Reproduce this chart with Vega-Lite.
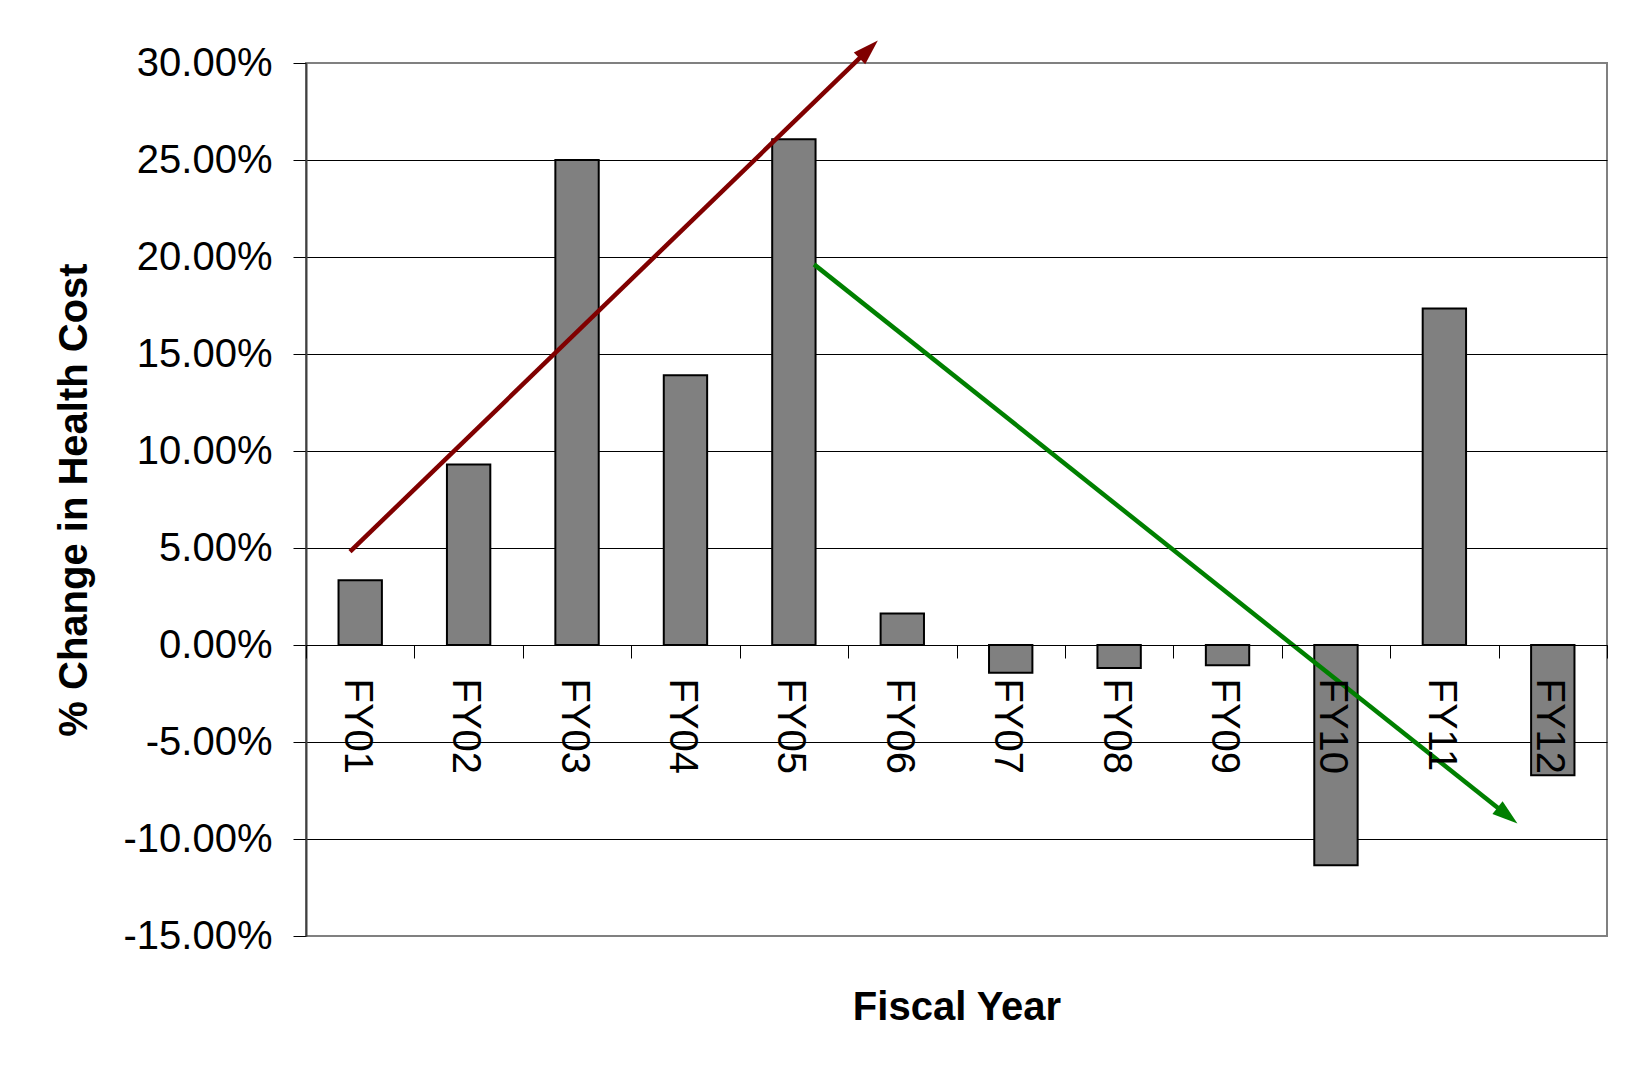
{
  "$schema": "https://vega.github.io/schema/vega-lite/v6.json",
  "width": 1301,
  "height": 873,
  "autosize": {"type": "none"},
  "padding": {"left": 306, "top": 63, "right": 20, "bottom": 133},
  "background": "white",
  "config": {
    "view": {"stroke": "#808080", "strokeWidth": 2},
    "font": "Liberation Sans"
  },
  "datasets": {
    "bars": [
      {"year": "FY01", "change": 0.0334},
      {"year": "FY02", "change": 0.093},
      {"year": "FY03", "change": 0.25},
      {"year": "FY04", "change": 0.139},
      {"year": "FY05", "change": 0.2607},
      {"year": "FY06", "change": 0.0162},
      {"year": "FY07", "change": -0.0143},
      {"year": "FY08", "change": -0.0118},
      {"year": "FY09", "change": -0.0104},
      {"year": "FY10", "change": -0.1135},
      {"year": "FY11", "change": 0.1735},
      {"year": "FY12", "change": -0.0671}
    ],
    "arrows": [
      {"trend": "up", "step": 0, "pos": 0.406, "val": 0.0481},
      {"trend": "up", "step": 1, "pos": 5.19, "val": 0.307},
      {"trend": "down", "step": 0, "pos": 4.686, "val": 0.1962},
      {"trend": "down", "step": 1, "pos": 11.082, "val": -0.0879}
    ]
  },
  "layer": [
    {
      "data": {"name": "bars"},
      "mark": {"type": "bar", "fill": "#808080", "stroke": "black", "strokeWidth": 2, "width": {"band": 0.4}},
      "encoding": {
        "x": {
          "field": "year",
          "type": "nominal",
          "sort": null,
          "scale": {"paddingInner": 0, "paddingOuter": 0},
          "axis": {
            "title": "Fiscal Year",
            "orient": "bottom",
            "offset": -291,
            "labelAngle": 90,
            "labelFontSize": 40,
            "labelColor": "black",
            "labelPadding": 20,
            "labelOffset": -4,
            "labelOverlap": false,
            "tickSize": 13,
            "tickColor": "black",
            "tickWidth": 1,
            "tickBand": "extent",
            "domainColor": "black",
            "domainWidth": 1,
            "grid": false,
            "titleFontSize": 40,
            "titleFontWeight": "bold",
            "titleColor": "black",
            "titleY": 374,
            "titleBaseline": "alphabetic",
            "zindex": 1
          }
        },
        "y": {
          "field": "change",
          "type": "quantitative",
          "scale": {"domain": [-0.15, 0.3], "nice": false, "zero": false},
          "axis": {
            "title": "% Change in Health Cost",
            "values": [-0.15, -0.1, -0.05, 0, 0.05, 0.1, 0.15, 0.2, 0.25, 0.3],
            "labelExpr": "replace(format(datum.value, '.2%'), '\u2212', '-')",
            "labelFontSize": 40,
            "labelColor": "black",
            "labelPadding": 21,
            "tickSize": 13,
            "tickColor": "black",
            "domainColor": "#404040",
            "domainWidth": 2,
            "grid": true,
            "gridColor": "black",
            "gridWidth": 1,
            "gridOpacity": {"condition": {"test": "datum.value >= 0.299 || datum.value <= -0.149", "value": 0}, "value": 1},
            "titleFontSize": 40,
            "titleFontWeight": "bold",
            "titleColor": "black",
            "titleX": -220,
            "titleBaseline": "alphabetic",
            "zindex": 0
          }
        }
      }
    },
    {
      "data": {"name": "arrows"},
      "encoding": {
        "x": {"field": "pos", "type": "quantitative", "scale": {"domain": [0, 12], "nice": false, "zero": false}, "axis": null},
        "y": {"field": "val", "type": "quantitative"},
        "color": {"field": "trend", "type": "nominal", "scale": {"domain": ["up", "down"], "range": ["#800000", "#008000"]}, "legend": null}
      },
      "layer": [
        {
          "mark": {"type": "line", "strokeWidth": 4.5, "clip": false},
          "encoding": {
            "detail": {"field": "trend"},
            "order": {"field": "step"}
          }
        },
        {
          "transform": [{"filter": "datum.step == 1 && datum.trend == 'up'"}],
          "mark": {"type": "point", "shape": "M0,-1L-0.64,1L0.64,1Z", "size": 650, "filled": true, "opacity": 1, "angle": 45.9, "clip": false, "strokeWidth": 0}
        },
        {
          "transform": [{"filter": "datum.step == 1 && datum.trend == 'down'"}],
          "mark": {"type": "point", "shape": "M0,-1L-0.64,1L0.64,1Z", "size": 650, "filled": true, "opacity": 1, "angle": 128.5, "clip": false, "strokeWidth": 0}
        }
      ]
    }
  ],
  "resolve": {"scale": {"x": "independent"}}
}
